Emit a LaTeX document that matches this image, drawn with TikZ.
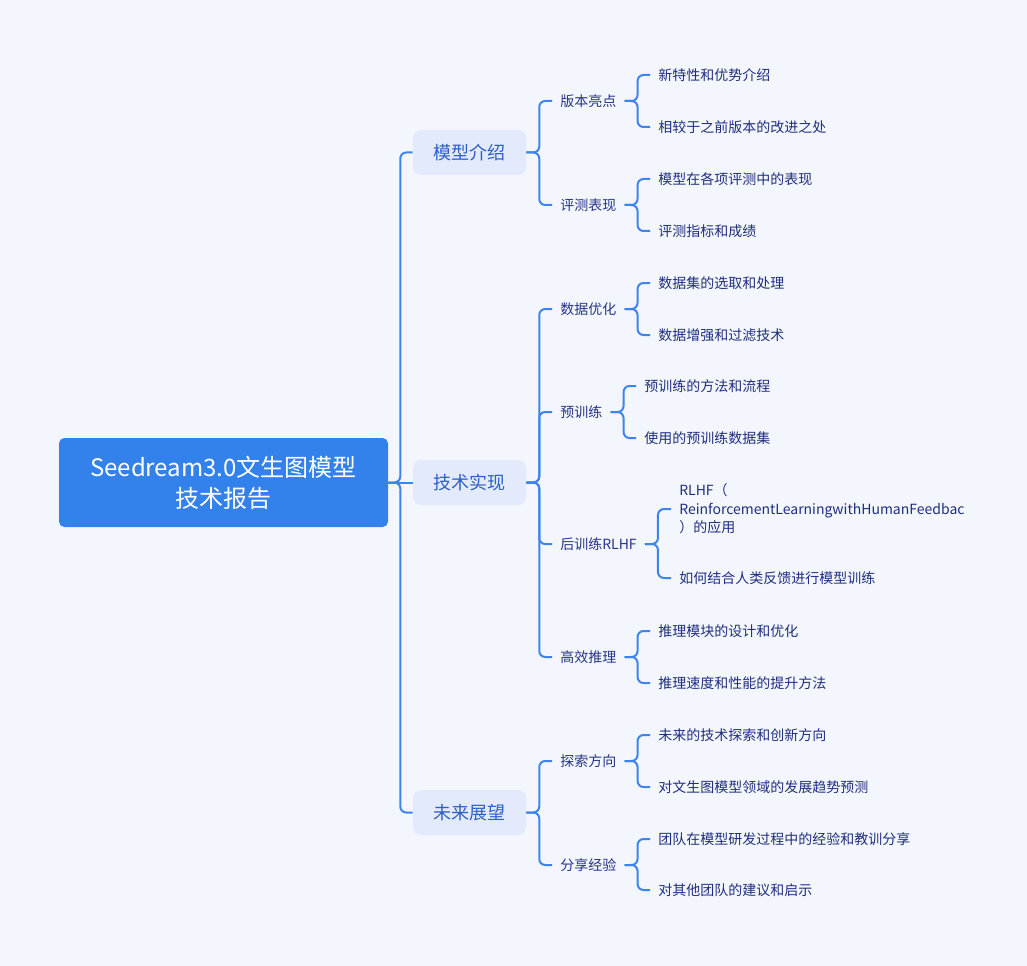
\documentclass[tikz,border=0pt]{standalone}
\usepackage{fontspec}
\setmainfont{Noto Sans CJK SC}
\usetikzlibrary{calc}
\definecolor{bgc}{HTML}{F4F6FD}
\definecolor{rootc}{HTML}{3381EB}
\definecolor{lonec}{HTML}{E2EAFC}
\definecolor{lonet}{HTML}{2D5FC4}
\definecolor{linec}{HTML}{3D84EC}
\definecolor{ltwot}{HTML}{26358A}
\definecolor{leaft}{HTML}{1F2E7F}
\tikzset{
  rootbox/.style={fill=rootc, rounded corners=4pt, text=white, align=center,
    minimum width=246.75pt, minimum height=66.75pt, inner sep=0pt,
    font=\fontsize{18pt}{23.25pt}\selectfont},
  lonebox/.style={fill=lonec, rounded corners=6pt, text=lonet,
    minimum width=84.75pt, minimum height=33.75pt, inner sep=0pt,
    font=\fontsize{13.5pt}{16pt}\selectfont},
  ltwo/.style={anchor=west, text=ltwot, inner xsep=6pt, inner ysep=0pt,
    font=\fontsize{10.5pt}{13pt}\selectfont},
  leaf/.style={anchor=west, text=leaft, inner xsep=6pt, inner ysep=0pt, align=left,
    font=\fontsize{10.5pt}{13.9pt}\selectfont},
  conn/.style={draw=linec, line width=1.5pt, rounded corners=4.5pt},
}
\begin{document}
\begin{tikzpicture}[x=0.75pt, y=-0.75pt]
\fill[bgc] (0,0) rectangle (1027,966);
\useasboundingbox (0,0) rectangle (1027,966);

\node[rootbox] (root) at (223.5,482.5) {Seedream3.0文生图模型\\技术报告};
\node[lonebox] (mi) at (469.5,152.5) {模型介绍};
\node[lonebox] (js) at (469.5,482.5) {技术实现};
\node[lonebox] (wl) at (469.5,812.5) {未来展望};

\draw[conn] (root.east) -- (js.west);
\draw[conn] (root.east) -- ++(12,0) |- (mi.west);
\draw[conn] (root.east) -- ++(12,0) |- (wl.west);

% level 2
\node[ltwo] (v1) at (552,101) {版本亮点};
\node[ltwo] (v2) at (552,205) {评测表现};
\node[ltwo] (d1) at (552,309) {数据优化};
\node[ltwo] (d2) at (552,412) {预训练};
\node[ltwo] (d3) at (552,544) {后训练RLHF};
\node[ltwo] (d4) at (552,657) {高效推理};
\node[ltwo] (f1) at (552,761) {探索方向};
\node[ltwo] (f2) at (552,865) {分享经验};

\foreach \p/\c in {mi/v1,mi/v2,js/d1,js/d2,js/d3,js/d4,wl/f1,wl/f2}
  \draw[conn] (\p.east) -- ++(13,0) |- (\c.west);

% leaves
\node[leaf] (a1) at (650,75) {新特性和优势介绍};
\node[leaf] (a2) at (650,127) {相较于之前版本的改进之处};
\node[leaf] (b1) at (650,179) {模型在各项评测中的表现};
\node[leaf] (b2) at (650,231) {评测指标和成绩};
\node[leaf] (c1) at (650,283) {数据集的选取和处理};
\node[leaf] (c2) at (650,335) {数据增强和过滤技术};
\node[leaf] (e1) at (636,386) {预训练的方法和流程};
\node[leaf] (e2) at (636,438) {使用的预训练数据集};
\begin{scope}
\clip (600,470) rectangle (963,540);
\node[leaf] (g1) at (671,509) {RLHF（\\ReinforcementLearningwithHumanFeedbac\\）的应用};
\end{scope}
\node[leaf] (g2) at (671,578) {如何结合人类反馈进行模型训练};
\node[leaf] (h1) at (650,631) {推理模块的设计和优化};
\node[leaf] (h2) at (650,683) {推理速度和性能的提升方法};
\node[leaf] (k1) at (650,735) {未来的技术探索和创新方向};
\node[leaf] (k2) at (650,787) {对文生图模型领域的发展趋势预测};
\node[leaf] (m1) at (650,839) {团队在模型研发过程中的经验和教训分享};
\node[leaf] (m2) at (650,890) {对其他团队的建议和启示};

\foreach \p/\c in {v1/a1,v1/a2,v2/b1,v2/b2,d1/c1,d1/c2,d2/e1,d2/e2,d3/g1,d3/g2,d4/h1,d4/h2,f1/k1,f1/k2,f2/m1,f2/m2}
  \draw[conn] (\p.east) -- ++(13,0) |- (\c.west);
\end{tikzpicture}
\end{document}
